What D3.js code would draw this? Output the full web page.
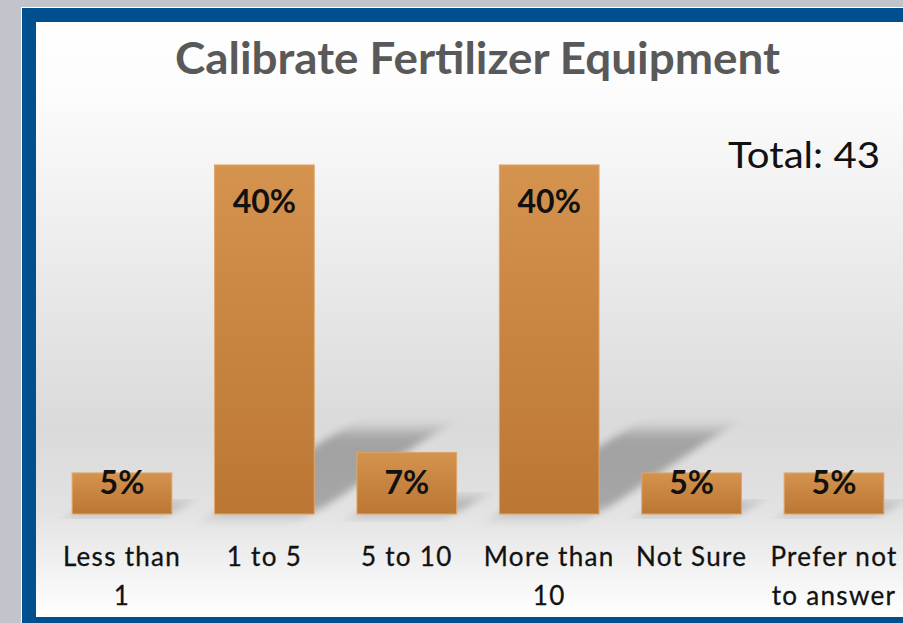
<!DOCTYPE html>
<html>
<head>
<meta charset="utf-8">
<script src="https://cdn.jsdelivr.net/npm/d3@7"></script>
<style>
  body { margin: 0; background: #c1c4cb; }
  text { font-family: Lato, "Open Sans", sans-serif; }
</style>
</head>
<body>
<div id="chart"></div>
<script>
// data
var categories = ["Less than 1", "1 to 5", "5 to 10", "More than 10", "Not Sure", "Prefer not to answer"];
var catLines = [["Less than", "1"], ["1 to 5"], ["5 to 10"], ["More than", "10"], ["Not Sure"], ["Prefer not", "to answer"]];
var percents = [4.65, 39.53, 6.98, 39.53, 4.65, 4.65];
var valueLabels = ["5%", "40%", "7%", "40%", "5%", "5%"];
var chartTitle = "Calibrate Fertilizer Equipment";
var totalText = "Total: 43";

var chart_width  = 903;
var chart_height = 623;
var baseY = 514;

var svg = d3.select('#chart')
  .append('svg')
  .attr('width', chart_width)
  .attr('height', chart_height);

var defs = svg.append('defs');

// panel background gradient
var bg = defs.append('linearGradient')
  .attr('id', 'bgGrad')
  .attr('x1', 0).attr('y1', 0).attr('x2', 0).attr('y2', 1);
bg.append('stop').attr('offset', '0').attr('stop-color', '#ffffff');
bg.append('stop').attr('offset', '0.12').attr('stop-color', '#fcfcfc');
bg.append('stop').attr('offset', '0.68').attr('stop-color', '#dadada');
bg.append('stop').attr('offset', '0.82').attr('stop-color', '#e2e2e2');
bg.append('stop').attr('offset', '1').attr('stop-color', '#ffffff');

// bar gradient
var bar = defs.append('linearGradient')
  .attr('id', 'barGrad')
  .attr('x1', 0).attr('y1', 0).attr('x2', 0).attr('y2', 1);
bar.append('stop').attr('offset', '0').attr('stop-color', '#d4934f');
bar.append('stop').attr('offset', '1').attr('stop-color', '#bb7633');

defs.append('filter')
  .attr('id', 'blur')
  .attr('x', '-50%').attr('y', '-50%').attr('width', '200%').attr('height', '200%')
  .append('feGaussianBlur')
  .attr('stdDeviation', 7);

// frame
svg.append('rect')
  .attr('x', 21).attr('y', 7)
  .attr('width', chart_width).attr('height', chart_height)
  .attr('fill', '#ffffff');
svg.append('rect')
  .attr('x', 22).attr('y', 8)
  .attr('width', chart_width).attr('height', chart_height)
  .attr('fill', '#00508f');
svg.append('rect')
  .attr('x', 36).attr('y', 22)
  .attr('width', chart_width).attr('height', 595)
  .attr('fill', 'url(#bgGrad)');

// scales
var x_scale = d3.scaleBand()
  .domain(categories)
  .range([50.8, 905.2])
  .paddingInner(0.3)
  .paddingOuter(0.15);

var y_scale = d3.scaleLinear()
  .domain([0, 45])
  .range([baseY, baseY - 45 * 8.83]);

// shadows (perspective, falling up-right)
svg.append('g')
  .selectAll('rect')
  .data(percents)
  .enter()
  .append('rect')
  .attr('x', function(d, i){ return x_scale(categories[i]); })
  .attr('y', function(d){ return -(baseY - y_scale(d)) * 0.24; })
  .attr('width', x_scale.bandwidth())
  .attr('height', function(d){ return (baseY - y_scale(d)) * 0.24; })
  .attr('transform', 'translate(0,' + baseY + ') skewX(-56)')
  .attr('fill', '#000')
  .attr('opacity', 0.26)
  .attr('filter', 'url(#blur)');

// bars
svg.append('g')
  .selectAll('rect')
  .data(percents)
  .enter()
  .append('rect')
  .attr('x', function(d, i){ return x_scale(categories[i]); })
  .attr('y', function(d){ return y_scale(d); })
  .attr('width', x_scale.bandwidth())
  .attr('height', function(d){ return baseY - y_scale(d); })
  .attr('fill', 'url(#barGrad)')
  .attr('stroke', '#e0a667')
  .attr('stroke-width', 1);

// value labels
svg.append('g')
  .selectAll('text')
  .data(percents)
  .enter()
  .append('text')
  .text(function(d, i){ return valueLabels[i]; })
  .attr('x', function(d, i){ return x_scale(categories[i]) + x_scale.bandwidth() / 2; })
  .attr('y', function(d){ return Math.min(y_scale(d) + 48, baseY - 20); })
  .attr('text-anchor', 'middle')
  .attr('font-size', 32)
  .attr('font-weight', 'bold')
  .attr('fill', '#111');

// category labels
var catG = svg.append('g')
  .selectAll('text')
  .data(catLines)
  .enter()
  .append('text')
  .attr('text-anchor', 'middle')
  .attr('font-size', 26)
  .attr('letter-spacing', 1.3)
  .attr('fill', '#111')
  .attr('stroke', '#111')
  .attr('stroke-width', 0.3)
  .attr('transform', function(d, i){
    return 'translate(' + (x_scale(categories[i]) + x_scale.bandwidth() / 2) + ',566)';
  });

catG.selectAll('tspan')
  .data(function(d){ return d; })
  .enter()
  .append('tspan')
  .attr('x', 0)
  .attr('y', function(d, i){ return i * 39; })
  .text(function(d){ return d; });

// title
svg.append('text')
  .text(chartTitle)
  .attr('x', 477.5)
  .attr('y', 74)
  .attr('text-anchor', 'middle')
  .attr('font-size', 43)
  .attr('font-weight', 'bold')
  .attr('fill', '#595959')
  .attr('textLength', 605)
  .attr('lengthAdjust', 'spacingAndGlyphs');

svg.append('text')
  .text(totalText)
  .attr('x', 880)
  .attr('y', 168)
  .attr('text-anchor', 'end')
  .attr('font-size', 37)
  .attr('fill', '#111')
  .attr('textLength', 152)
  .attr('lengthAdjust', 'spacingAndGlyphs');
</script>
</body>
</html>
